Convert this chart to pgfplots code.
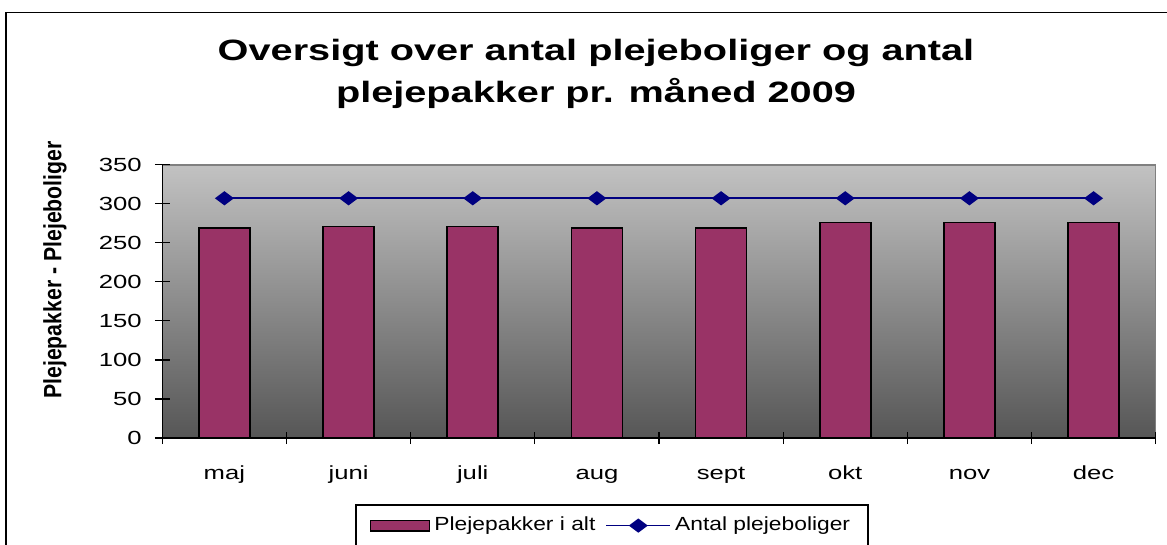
\documentclass[border=0pt]{standalone}
\usepackage{fontspec}
\setmainfont{Liberation Sans}
\newfontfamily\widefont[FakeStretch=1.35]{Liberation Sans}
\newfontfamily\legfont[FakeStretch=1.2]{Liberation Sans}
\newfontfamily\narrowfont[FakeStretch=0.85]{Liberation Sans}
\usepackage{pgfplots}
\pgfplotsset{compat=1.18}

\definecolor{barfill}{HTML}{993366}
\definecolor{linenavy}{HTML}{000080}
\definecolor{bgtop}{HTML}{C2C2C2}
\definecolor{bgbot}{HTML}{565656}

\pgfplotsset{
  barlegend/.style={legend image code/.code={\draw[##1] (0pt,-2.6pt) rectangle (29.5pt,2.6pt);}},
  linelegend/.style={legend image code/.code={\draw[mark repeat=2, mark phase=2, ##1] plot coordinates {(0pt,0pt) (16pt,0pt) (32pt,0pt)};}},
}

% 1 px of the reference = 0.5pt
\begin{document}
\begin{tikzpicture}
\path[use as bounding box, clip] (0,0) rectangle (583.5pt,-272.5pt);
% outer chart frame (left and top visible)
\draw[line width=0.9pt] (3pt,-280pt) -- (3pt,-6.25pt) -- (590pt,-6.25pt);

\node[align=center, font=\widefont\bfseries\fontsize{14.7}{21}\selectfont]
  at (298pt,-37pt) {Oversigt over antal plejeboliger og antal\\plejepakker pr. måned 2009};

\begin{axis}[
  at={(81.15pt,-219pt)}, anchor=south west,
  scale only axis, width=496.7pt, height=136.65pt,
  xmin=-0.5, xmax=7.5, ymin=0, ymax=350,
  axis x line*=bottom, axis y line*=left,
  axis line style={black, line width=0.8pt},
  axis background/.style={shade, top color=bgtop, bottom color=bgbot, draw=gray, line width=0.8pt},
  xtick={0,...,7},
  xticklabels={maj, juni, juli, aug, sept, okt, nov, dec},
  minor xtick={-0.5,0.5,...,7.5},
  major x tick style={draw=none},
  minor x tick style={black, line width=0.6pt},
  minor tick length=6pt,
  ytick={0,50,...,350},
  major tick length=7.5pt,
  tick align=center,
  y tick style={black, line width=0.6pt},
  /pgf/number format/assume math mode=true,
  ticklabel style={font=\widefont\fontsize{9.5}{11}\selectfont},
  xticklabel style={anchor=base, yshift=-16.8pt},
  yticklabel style={xshift=-3pt},
  ylabel={Plejepakker - Plejeboliger},
  ylabel style={at={(axis description cs:-0.108,0.615)}, anchor=center,
    font=\narrowfont\bfseries\fontsize{12.5}{14}\selectfont},
  legend style={at={(axis description cs:0.4527,-0.243)}, anchor=north,
    legend columns=-1, draw=black, line width=0.8pt, fill=white,
    font=\legfont\fontsize{9.5}{11}\selectfont,
    inner xsep=7pt, inner ysep=4pt,
    /tikz/every even column/.append style={column sep=3pt}},
]
\addplot[ybar, bar width=25.5pt, fill=barfill, draw=black, line width=0.8pt, barlegend]
  coordinates {(0,269) (1,271) (2,271) (3,269) (4,269) (5,276) (6,276) (7,276)};
\addlegendentry{Plejepakker i alt}
\addplot[color=linenavy, line width=0.9pt, mark=diamond*, mark size=4pt,
  mark options={rotate=90, fill=linenavy}, linelegend]
  coordinates {(0,307) (1,307) (2,307) (3,307) (4,307) (5,307) (6,307) (7,307)};
\addlegendentry{Antal plejeboliger}
\end{axis}
\end{tikzpicture}
\end{document}
